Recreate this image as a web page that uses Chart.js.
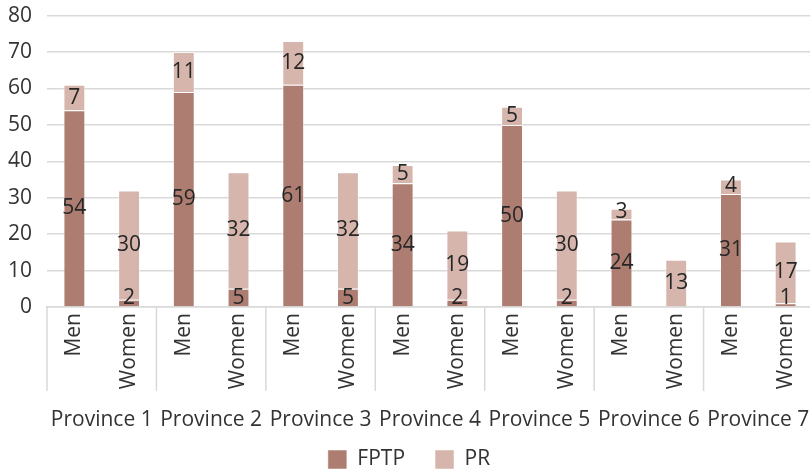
<!DOCTYPE html>
<html><head><meta charset="utf-8">
<script src="https://cdn.jsdelivr.net/npm/chart.js@4/dist/chart.umd.min.js"></script>
<style>html,body{margin:0;padding:0;overflow:hidden;background:#fff}</style>
</head><body>
<canvas id="c" width="814" height="470"></canvas>
<script>
const provinces = ['Province 1','Province 2','Province 3','Province 4','Province 5','Province 6','Province 7'];
const genders = ['Men','Women'];
const fptpMen = [54,59,61,34,50,24,31];
const fptpWomen = [2,5,5,2,2,0,1];
const prMen = [7,11,12,5,5,3,4];
const prWomen = [30,32,32,19,30,13,17];
const yTicks = [0,10,20,30,40,50,60,70,80];

const categories = [], fptp = [], pr = [];
provinces.forEach((p, i) => {
  categories.push(genders[0], genders[1]);
  fptp.push(fptpMen[i], fptpWomen[i]);
  pr.push(prMen[i], prWomen[i]);
});

const FONT = 21;
const CLEAR = 'rgba(0,0,0,0)';

const separators = {
  id: 'separators',
  afterDraw(chart) {
    const xs = chart.scales.x, ctx = chart.ctx;
    const w = (xs.right - xs.left) / categories.length;
    ctx.save();
    ctx.strokeStyle = '#d9d9d9';
    ctx.lineWidth = 1.5;
    ctx.beginPath();
    for (let i = 0; i <= categories.length; i += genders.length) {
      const x = xs.left + i * w;
      ctx.moveTo(x, xs.top);
      ctx.lineTo(x, xs.top + 84);
    }
    ctx.stroke();
    ctx.restore();
  }
};

const valueLabels = {
  id: 'valueLabels',
  afterDatasetsDraw(chart) {
    const ctx = chart.ctx;
    ctx.save();
    ctx.font = FONT + "px 'Open Sans'";
    ctx.fillStyle = '#262626';
    ctx.textAlign = 'center';
    ctx.textBaseline = 'middle';
    chart.data.datasets.forEach((ds, di) => {
      chart.getDatasetMeta(di).data.forEach((el, i) => {
        const v = ds.data[i];
        if (!v) return;
        const y = Math.min((el.y + el.base) / 2, el.base - 8);
        ctx.fillText(String(v), el.x, y);
      });
    });
    ctx.restore();
  }
};

const legendShift = {
  id: 'legendShift',
  afterLayout(chart) {
    const lg = chart.legend;
    const d = 459.5 - (lg.top + 40.5);
    lg.top += d; lg.bottom += d;
  }
};

Chart.defaults.font.family = "'Open Sans'";
Chart.defaults.font.size = FONT;
Chart.defaults.color = '#333333';

new Chart(document.getElementById('c'), {
  type: 'bar',
  data: {
    labels: categories,
    datasets: [
      { label: 'FPTP', data: fptp, backgroundColor: '#AD7D71', borderColor: 'rgba(255,255,255,0.5)', borderWidth: 1, stack: 's' },
      { label: 'PR', data: pr, backgroundColor: '#D5B5AC', borderColor: 'rgba(255,255,255,0.5)', borderWidth: 1, stack: 's' }
    ]
  },
  options: {
    responsive: false,
    animation: false,
    layout: { padding: { left: 5, top: 0, right: 1, bottom: -23 } },
    datasets: { bar: { categoryPercentage: 1, barPercentage: 0.4 } },
    scales: {
      x: {
        stacked: true, offset: true,
        grid: { display: true, drawOnChartArea: false, drawTicks: true, tickLength: 4, color: CLEAR, tickColor: CLEAR },
        border: { display: true, color: '#d9d9d9', width: 1.5 },
        ticks: { minRotation: 90, maxRotation: 90, autoSkip: false, padding: 2 },
        afterFit: s => { s.height = 82; }
      },
      x2: {
        type: 'category', labels: provinces, offset: true, position: 'bottom',
        grid: { display: true, drawOnChartArea: false, drawTicks: true, tickLength: 18, color: CLEAR, tickColor: CLEAR },
        border: { display: false },
        ticks: { padding: 0, autoSkip: false, maxRotation: 0 },
        afterFit: s => { s.height = 43; }
      },
      y: {
        stacked: true, min: 0, max: 80,
        afterBuildTicks: s => { s.ticks = yTicks.map(v => ({ value: v })); },
        ticks: { padding: 3 },
        grid: { color: '#d9d9d9', lineWidth: 1.5, drawTicks: true, tickLength: 12, tickColor: CLEAR },
        border: { display: false }
      }
    },
    plugins: {
      legend: { position: 'bottom', labels: { boxWidth: 19, boxHeight: 19, padding: 30, color: '#333333' } },
      tooltip: { enabled: false }
    }
  },
  plugins: [separators, valueLabels, legendShift]
});
</script>
</body></html>
